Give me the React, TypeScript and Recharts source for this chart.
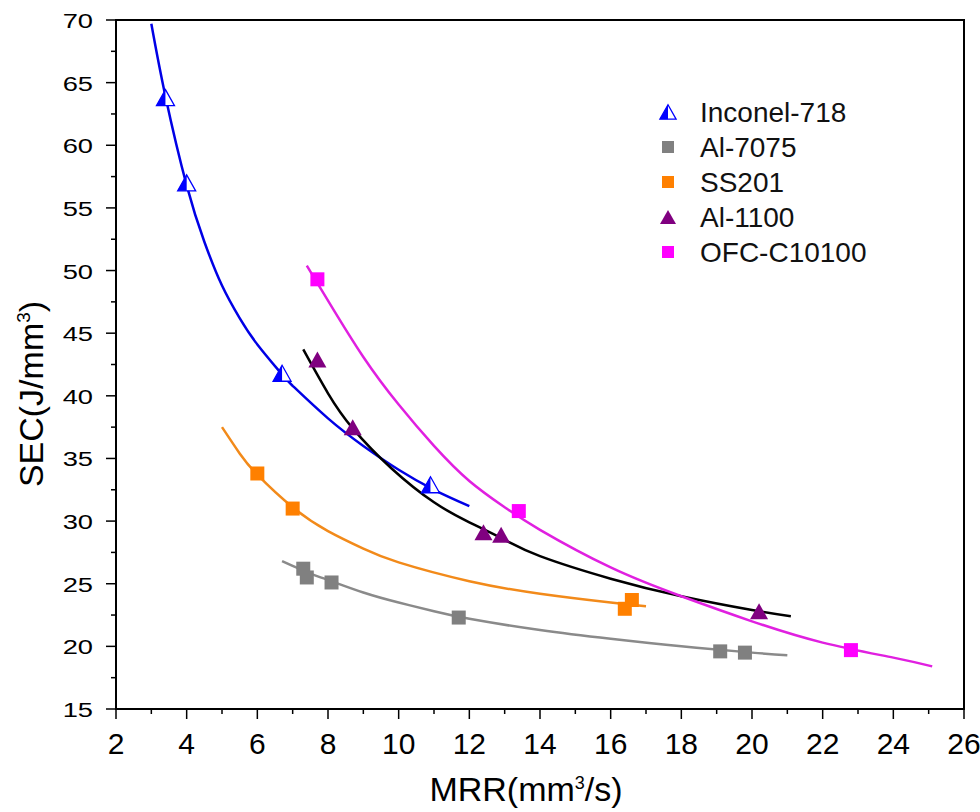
import {
  ComposedChart,
  Line,
  Scatter,
  XAxis,
  YAxis,
  ReferenceArea,
  Legend,
} from 'recharts';

// Measured points (MRR in mm^3/s, SEC in J/mm^3)
const inconelX = [3.4, 4.0, 6.7, 10.9];
const inconelY = [63.8, 57.0, 41.8, 32.9];
const al7075X = [7.3, 7.4, 8.1, 11.7, 19.1, 19.8];
const al7075Y = [26.2, 25.5, 25.1, 22.3, 19.6, 19.5];
const ss201X = [6.0, 7.0, 16.4, 16.6];
const ss201Y = [33.8, 31.0, 23.0, 23.7];
const al1100X = [7.7, 8.7, 12.4, 12.9, 20.2];
const al1100Y = [42.9, 37.5, 29.1, 28.9, 22.8];
const ofcX = [7.7, 13.4, 22.8];
const ofcY = [49.3, 30.8, 19.7];

// Fitted curves
const inconelFitX = [3.0, 3.4, 4, 4.5, 5, 5.5, 6, 6.7, 7, 8, 9, 10, 11, 12];
const inconelFitY = [69.7, 63.9, 56.8, 52.3, 48.8, 46.2, 44.1, 41.7, 40.8, 38.2, 36.0, 34.1, 32.5, 31.2];
const al7075FitX = [6.7, 7.5, 8, 9, 10, 11, 12, 14, 16, 18, 20, 21];
const al7075FitY = [26.8, 25.8, 25.3, 24.3, 23.5, 22.8, 22.2, 21.3, 20.6, 20.0, 19.5, 19.3];
const ss201FitX = [5, 5.5, 6, 7, 8, 9, 10, 12, 14, 16, 17];
const ss201FitY = [37.5, 35.4, 33.7, 31.1, 29.2, 27.8, 26.7, 25.2, 24.2, 23.5, 23.2];
const al1100FitX = [7.3, 8, 8.7, 9.8, 11, 12, 13, 14, 16, 18, 20, 21.1];
const al1100FitY = [43.7, 40.2, 37.4, 34.2, 31.5, 29.9, 28.5, 27.2, 25.4, 24.0, 22.9, 22.4];
const ofcFitX = [7.4, 8, 9, 10, 11, 12, 13, 14, 16, 18, 20, 22, 24, 25.1];
const ofcFitY = [50.4, 47.6, 43.1, 39.3, 36.0, 33.2, 31.1, 29.3, 26.3, 24.0, 22.0, 20.3, 19.1, 18.4];

const xTicks = [2, 3, 4, 5, 6, 7, 8, 9, 10, 11, 12, 13, 14, 15, 16, 17, 18, 19, 20, 21, 22, 23, 24, 25, 26];
const yTicks = [15, 17.5, 20, 22.5, 25, 27.5, 30, 32.5, 35, 37.5, 40, 42.5, 45, 47.5, 50, 52.5, 55, 57.5, 60, 62.5, 65, 67.5, 70];

const zip = (xs: number[], ys: number[]) => xs.map((x, i) => ({ x, y: ys[i] }));

const NARROW = "'Liberation Sans Narrow', 'Arial Narrow', 'Liberation Sans', Arial, sans-serif";
const SANS = "'Liberation Sans', Arial, sans-serif";

function HalfTriangle({ cx, cy, size = 1 }: { cx: number; cy: number; size?: number }) {
  const w = 9 * size;
  const h = 8 * size;
  return (
    <g>
      <polygon
        points={`${cx},${cy - h} ${cx - w},${cy + h} ${cx + w},${cy + h}`}
        fill="#fff"
        stroke="#0000ff"
        strokeWidth={1.3}
      />
      <polygon points={`${cx},${cy - h} ${cx - w},${cy + h} ${cx},${cy + h}`} fill="#0000ff" />
    </g>
  );
}

function Triangle({ cx, cy, fill }: { cx: number; cy: number; fill: string }) {
  return <polygon points={`${cx},${cy - 8} ${cx - 9},${cy + 8} ${cx + 9},${cy + 8}`} fill={fill} />;
}

function Square({ cx, cy, fill }: { cx: number; cy: number; fill: string }) {
  return <rect x={cx - 7} y={cy - 7} width={14} height={14} fill={fill} />;
}

function XTick({ x, y, payload }: any) {
  const major = payload.value % 2 === 0;
  return (
    <g>
      <line x1={x} y1={y} x2={x} y2={y + (major ? 10 : 5)} stroke="#000" strokeWidth={1.5} />
      {major && (
        <text x={x} y={y + 45} textAnchor="middle" fontSize={30} fontFamily={NARROW} fill="#000">
          {payload.value}
        </text>
      )}
    </g>
  );
}

function YTick({ x, y, payload }: any) {
  const major = payload.value % 5 === 0;
  return (
    <g>
      <line x1={x} y1={y} x2={x - (major ? 10 : 5)} y2={y} stroke="#000" strokeWidth={1.5} />
      {major && (
        <text
          transform={`translate(${x - 23},${y + 8}) scale(1.3,1)`}
          textAnchor="end"
          fontSize={21}
          fontFamily={SANS}
          fill="#000"
        >
          {payload.value}
        </text>
      )}
    </g>
  );
}

const legendItems = [
  { name: 'Inconel-718', kind: 'half' },
  { name: 'Al-7075', kind: 'square', color: '#808080' },
  { name: 'SS201', kind: 'square', color: '#ff8000' },
  { name: 'Al-1100', kind: 'triangle', color: '#800080' },
  { name: 'OFC-C10100', kind: 'square', color: '#ff00ff' },
];

function LegendBox() {
  return (
    <svg width={260} height={180}>
      {legendItems.map((item, i) => {
        const cy = 17 + i * 35;
        return (
          <g key={item.name}>
            {item.kind === 'half' && <HalfTriangle cx={13} cy={cy} size={0.9} />}
            {item.kind === 'square' && <rect x={7} y={cy - 6} width={12} height={12} fill={item.color} />}
            {item.kind === 'triangle' && (
              <polygon points={`13,${cy - 7} 5,${cy + 7} 21,${cy + 7}`} fill={item.color} />
            )}
            <text x={45} y={cy + 10} fontSize={28} fontFamily={SANS} fill="#111">
              {item.name}
            </text>
          </g>
        );
      })}
    </svg>
  );
}

export default function App() {
  return (
    <div style={{ position: 'absolute', left: 0, top: 0, width: 980, height: 812, background: '#fff' }}>
      <ComposedChart width={980} height={812} margin={{ top: 20, right: 16, bottom: 0, left: 0 }}>
        <XAxis
          type="number"
          dataKey="x"
          domain={[2, 26]}
          ticks={xTicks}
          interval={0}
          allowDataOverflow
          height={103}
          tickSize={0}
          tickMargin={0}
          tick={<XTick />}
          axisLine={{ stroke: '#000', strokeWidth: 2 }}
        />
        <YAxis
          type="number"
          dataKey="y"
          domain={[15, 70]}
          ticks={yTicks}
          interval={0}
          allowDataOverflow
          width={116}
          tickSize={0}
          tickMargin={0}
          tick={<YTick />}
          axisLine={{ stroke: '#000', strokeWidth: 2 }}
        />
        <ReferenceArea x1={2} x2={26} y1={15} y2={70} fill="none" stroke="#000" strokeWidth={2} ifOverflow="visible" />

        <Line data={zip(inconelFitX, inconelFitY)} dataKey="y" type="natural" stroke="#0000e6" strokeWidth={2.5} dot={false} isAnimationActive={false} />
        <Line data={zip(al7075FitX, al7075FitY)} dataKey="y" type="natural" stroke="#8a8a8a" strokeWidth={2.5} dot={false} isAnimationActive={false} />
        <Line data={zip(ss201FitX, ss201FitY)} dataKey="y" type="natural" stroke="#f28a1a" strokeWidth={2.5} dot={false} isAnimationActive={false} />
        <Line data={zip(al1100FitX, al1100FitY)} dataKey="y" type="natural" stroke="#000" strokeWidth={2.5} dot={false} isAnimationActive={false} />
        <Line data={zip(ofcFitX, ofcFitY)} dataKey="y" type="natural" stroke="#e020e0" strokeWidth={2.5} dot={false} isAnimationActive={false} />

        <Scatter data={zip(inconelX, inconelY)} isAnimationActive={false} shape={(p: any) => <HalfTriangle cx={p.cx} cy={p.cy} />} />
        <Scatter data={zip(al7075X, al7075Y)} isAnimationActive={false} shape={(p: any) => <Square cx={p.cx} cy={p.cy} fill="#808080" />} />
        <Scatter data={zip(ss201X, ss201Y)} isAnimationActive={false} shape={(p: any) => <Square cx={p.cx} cy={p.cy} fill="#ff8000" />} />
        <Scatter data={zip(al1100X, al1100Y)} isAnimationActive={false} shape={(p: any) => <Triangle cx={p.cx} cy={p.cy} fill="#800080" />} />
        <Scatter data={zip(ofcX, ofcY)} isAnimationActive={false} shape={(p: any) => <Square cx={p.cx} cy={p.cy} fill="#ff00ff" />} />

        <Legend
          layout="vertical"
          align="center"
          verticalAlign="middle"
          content={() => <LegendBox />}
          wrapperStyle={{ left: 655, top: 95, width: 260, height: 180 }}
        />
      </ComposedChart>

      {/* axis titles */}
      <div
        style={{
          position: 'absolute',
          left: 0,
          top: 770,
          width: 1052,
          textAlign: 'center',
          fontFamily: NARROW,
          fontSize: 34,
          color: '#000',
        }}
      >
        MRR(mm<sup style={{ fontSize: 18 }}>3</sup>/s)
      </div>
      <div
        style={{
          position: 'absolute',
          left: 31,
          top: 394,
          transform: 'translate(-50%, -50%) rotate(-90deg)',
          whiteSpace: 'nowrap',
          fontFamily: SANS,
          fontSize: 34,
          color: '#000',
        }}
      >
        SEC(J/mm<sup style={{ fontSize: 19 }}>3</sup>)
      </div>
    </div>
  );
}
